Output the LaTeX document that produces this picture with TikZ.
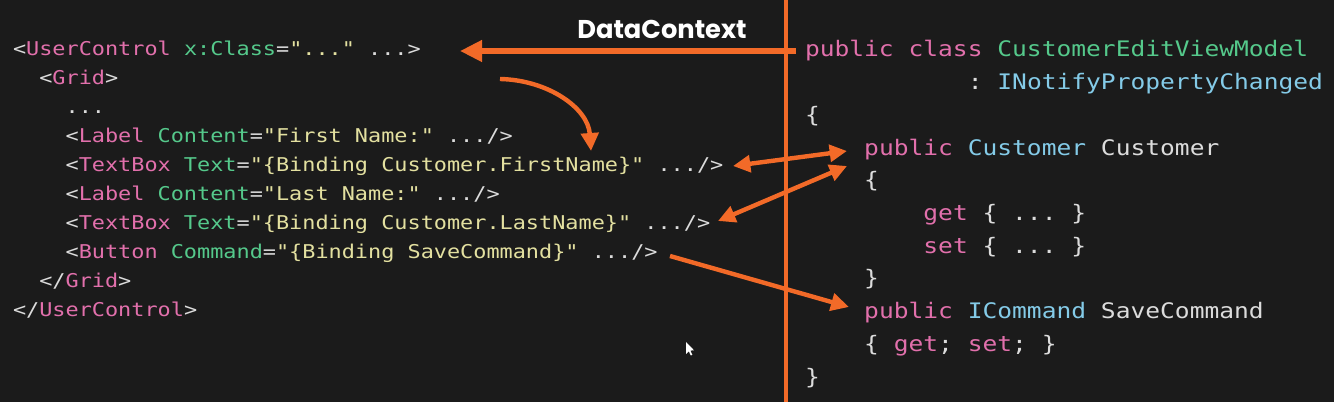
\documentclass[tikz,border=0pt]{standalone}
\usepackage{fontspec}
\setmonofont{DejaVu Sans Mono}[FakeStretch=1.15]
\newfontfamily\titlefont{Poppins}
\usetikzlibrary{arrows.meta}
\definecolor{bgc}{HTML}{1B1B1B}
\definecolor{pk}{HTML}{E270AC}
\definecolor{gr}{HTML}{55C98B}
\definecolor{ye}{HTML}{E3E0A0}
\definecolor{wh}{HTML}{DCDCDC}
\definecolor{bl}{HTML}{84CBE8}
\definecolor{orc}{HTML}{F26A28}
\newcommand{\cPk}[1]{\textcolor{pk}{#1}}
\newcommand{\cGr}[1]{\textcolor{gr}{#1}}
\newcommand{\cYe}[1]{\textcolor{ye}{#1}}
\newcommand{\cWh}[1]{\textcolor{wh}{#1}}
\newcommand{\cBl}[1]{\textcolor{bl}{#1}}
\tikzset{
  lcode/.style={anchor=base west, inner sep=0pt, outer sep=0pt, text=wh,
    font=\ttfamily\fontsize{14.25}{14.25}\selectfont},
  rcode/.style={anchor=base west, inner sep=0pt, outer sep=0pt, text=wh,
    font=\ttfamily\fontsize{16.03}{16.03}\selectfont},
  conn/.style={draw=orc, line width=3.3pt},
  tipo/.style={-{Triangle[length=13.5pt,width=13pt]}},
  tipb/.style={{Triangle[length=13pt,width=12.5pt]}-{Triangle[length=13pt,width=12.5pt]}},
}
\begin{document}
\begin{tikzpicture}[x=0.75pt,y=-0.75pt]
\useasboundingbox (0,0) rectangle (1334,402);
\fill[bgc] (0,0) rectangle (1334,402);

% left code (XAML)
\node[lcode] (l0) at (13,56) {<\cPk{UserControl} \cGr{x:Class}=\cYe{"..."} ...>};
\node[lcode] (l1) at (39.3,85) {<\cPk{Grid}>};
\node[lcode] (l2) at (65.6,114) {...};
\node[lcode] (l3) at (65.6,143) {<\cPk{Label} \cGr{Content}=\cYe{"First Name:"} .../>};
\node[lcode] (l4) at (65.6,172) {<\cPk{TextBox} \cGr{Text}=\cYe{"\{Binding Customer.FirstName\}"} .../>};
\node[lcode] (l5) at (65.6,201) {<\cPk{Label} \cGr{Content}=\cYe{"Last Name:"} .../>};
\node[lcode] (l6) at (65.6,230) {<\cPk{TextBox} \cGr{Text}=\cYe{"\{Binding Customer.LastName\}"} .../>};
\node[lcode] (l7) at (65.6,259) {<\cPk{Button} \cGr{Command}=\cYe{"\{Binding SaveCommand\}"} .../>};
\node[lcode] (l8) at (39.3,288) {</\cPk{Grid}>};
\node[lcode] (l9) at (13,317) {</\cPk{UserControl}>};

% right code (C#)
\node[rcode] (r0) at (805,57) {\cPk{public class} \cGr{CustomerEditViewModel}};
\node[rcode] (r1) at (967.8,89.7) {: \cBl{INotifyPropertyChanged}};
\node[rcode] (r2) at (805,122.4) {\{};
\node[rcode] (r3) at (864.2,155.1) {\cPk{public} \cBl{Customer} Customer};
\node[rcode] (r4) at (864.2,187.8) {\{};
\node[rcode] (r5) at (923.4,220.5) {\cPk{get} \{ ... \}};
\node[rcode] (r6) at (923.4,253.2) {\cPk{set} \{ ... \}};
\node[rcode] (r7) at (864.2,285.9) {\}};
\node[rcode] (r8) at (864.2,318.6) {\cPk{public} \cBl{ICommand} SaveCommand};
\node[rcode] (r9) at (864.2,351.3) {\{ \cPk{get}; \cPk{set}; \}};
\node[rcode] (r10) at (805,384) {\}};

% divider
\coordinate (vtop) at (786,0);
\coordinate (vbot) at (786,402);
\draw[orc, line width=2.3pt] (vtop) -- (vbot);

% DataContext label and arrow
\node[text=white, font=\titlefont\bfseries\fontsize{19.3}{19.3}\selectfont, inner sep=0pt] (dc) at (662,29) {DataContext};
\coordinate (dcs) at (796,51);
\coordinate (dce) at (460,51);
\draw[conn, line width=3.9pt, -{Triangle[length=16.5pt,width=15.5pt]}] (dcs) -- (dce);

% curved arrow
\coordinate (cs) at (500,79);
\coordinate (ce) at (591,151);
\draw[conn, tipo] (cs) .. controls (548,80) and (588,108) .. (ce);

% double arrows
\coordinate (a3l) at (733,166);
\coordinate (a3r) at (847,151);
\draw[conn, tipb] (a3l) -- (a3r);
\coordinate (a4l) at (718,221);
\coordinate (a4r) at (847,166);
\draw[conn, tipb] (a4l) -- (a4r);

% command arrow
\coordinate (a5s) at (670,256);
\coordinate (a5e) at (849,307);
\draw[conn, tipo] (a5s) -- (a5e);

% mouse cursor
\fill[white] (686,342) -- (686,354) -- (688.8,351.3) -- (690.8,355.5) -- (692.3,354.8) -- (690.4,350.6) -- (694,350.3) -- cycle;
\end{tikzpicture}
\end{document}
